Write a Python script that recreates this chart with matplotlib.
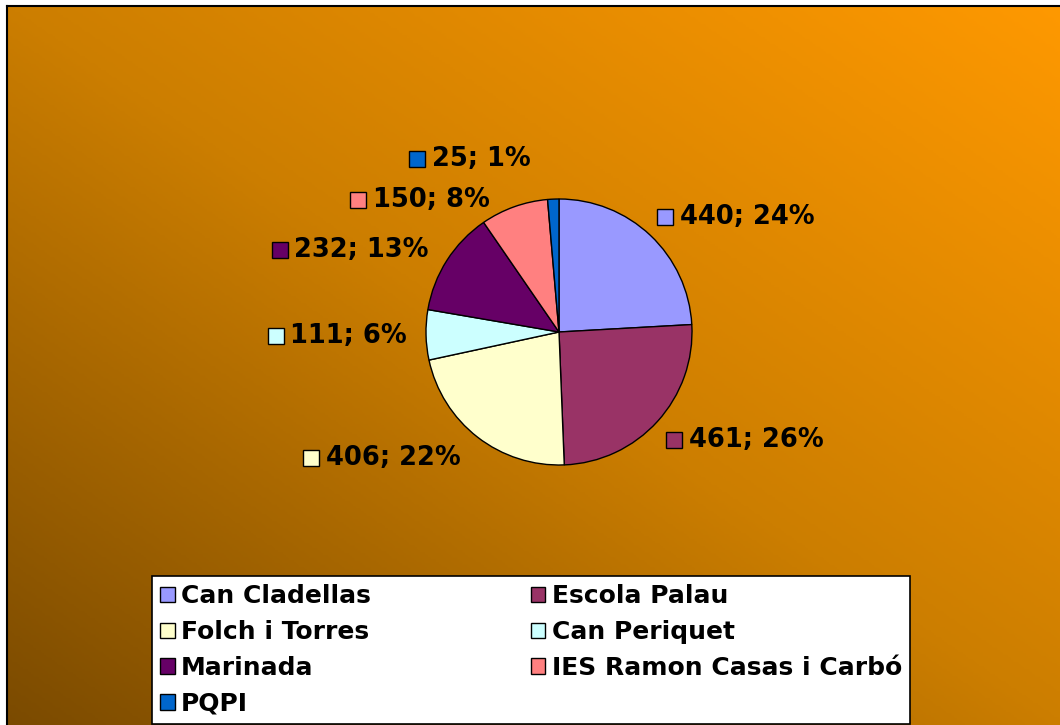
import numpy as np
import matplotlib.pyplot as plt
from matplotlib.patches import Rectangle, Patch
from matplotlib.colors import LinearSegmentedColormap

names = ["Can Cladellas", "Escola Palau", "Folch i Torres", "Can Periquet",
         "Marinada", "IES Ramon Casas i Carbó", "PQPI"]
values = [440, 461, 406, 111, 232, 150, 25]
pcts = [24, 26, 22, 6, 13, 8, 1]
colors = ["#9999FF", "#993366", "#FFFFCC", "#CCFFFF", "#660066", "#FF8080", "#0066CC"]

# label anchors (left edge of the little square, vertical centre), in pie radii
label_pos = [(0.737, 0.865), (0.805, -0.812), (-1.925, -0.947), (-2.19, -0.03),
             (-2.16, 0.617), (-1.571, 0.992), (-1.128, 1.30)]

W, H = 1060, 725
fig = plt.figure(figsize=(W / 100, H / 100), dpi=100)
fig.patch.set_facecolor("white")

# gradient background
bg = fig.add_axes([7 / W, -0.01, 1.01, 1 - 6 / H + 0.01])
nx, ny = 400, 300
xx, yy = np.meshgrid(np.linspace(0, 1, nx), np.linspace(0, 1, ny))
t = (xx + yy) / 2
cmap = LinearSegmentedColormap.from_list("bg", ["#7A4A00", "#CC7E00", "#FF9900"])
bg.imshow(t, cmap=cmap, origin="lower", aspect="auto", extent=(0, 1, 0, 1))
bg.set_xticks([])
bg.set_yticks([])
for s in ["right", "bottom"]:
    bg.spines[s].set_visible(False)
for s in ["left", "top"]:
    bg.spines[s].set_linewidth(1.5)

# pie
r_px = 133
half = 2.5 * r_px
cx, cy = 559, 332
ax = fig.add_axes([(cx - half) / W, (H - cy - half) / H, 2 * half / W, 2 * half / H])
ax.pie(values, colors=colors, startangle=90, counterclock=False, radius=1,
       wedgeprops=dict(edgecolor="black", linewidth=1.0))
ax.set_xlim(-2.5, 2.5)
ax.set_ylim(-2.5, 2.5)
ax.axis("off")

sq = 0.12
for (x, y), v, p, c in zip(label_pos, values, pcts, colors):
    ax.add_patch(Rectangle((x, y - sq / 2), sq, sq, facecolor=c, edgecolor="black",
                           linewidth=1.0, clip_on=False))
    ax.text(x + sq + 0.05, y, f"{v}; {p}%", fontsize=18.5, fontweight="bold",
            va="center", ha="left", color="black")

# legend, row-major order like the original
order = [0, 2, 4, 6, 1, 3, 5]
handles = [Patch(facecolor=colors[i], edgecolor="black", linewidth=1.0) for i in order]
labels = [names[i] for i in order]
leg = fig.legend(handles, labels, ncol=2, loc="upper left",
                 bbox_to_anchor=(152 / W, 1 - 576 / H),
                 borderaxespad=0, frameon=True, fancybox=False, framealpha=1,
                 prop=dict(size=18, weight="bold"), handlelength=0.58,
                 handleheight=0.58, handletextpad=0.25, labelspacing=0.475,
                 borderpad=0.33, columnspacing=6.4)
leg.get_frame().set_edgecolor("black")
leg.get_frame().set_linewidth(1.2)
leg.get_frame().set_facecolor("white")

fig.savefig("out.png", dpi=100)
